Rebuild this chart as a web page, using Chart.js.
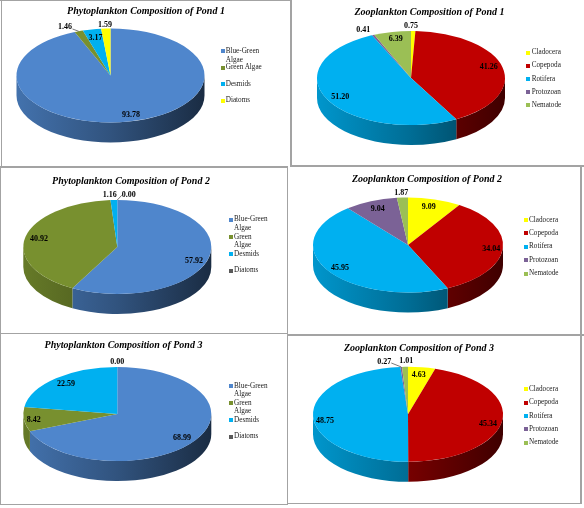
<!DOCTYPE html>
<html lang="en">
<head>
  <meta charset="UTF-8" />
  <title>Plankton Composition of Ponds</title>
  <script src="https://cdn.jsdelivr.net/npm/chart.js"></script>
  <style>
    html, body {
      margin: 0;
      background: #fff;
    }

    #page {
      position: relative;
      width: 584px;
      height: 508px;
      overflow: hidden;
      font-family: 'Liberation Serif', serif;
      filter: blur(0.3px);
    }

    #page canvas, .rule, .key, .swatch {
      position: absolute;
    }

    .rule {
      background: #a3a3a3;
    }

    .key {
      font-size: 7.2px;
      line-height: 8.5px;
      color: #222;
      white-space: pre-line;
    }

    .swatch {
      width: 4px;
      height: 4px;
    }
  </style>
</head>
<body>
  <div id="page"></div>

  <script>
    const phytoLegend = ['Blue-Green\nAlgae', 'Green\nAlgae', 'Desmids', 'Diatoms'];
    const phytoLegendPond1 = ['Blue-Green\nAlgae', 'Green Algae', 'Desmids', 'Diatoms'];
    const zooLegend = ['Cladocera', 'Copepoda', 'Rotifera', 'Protozoan', 'Nematode'];

    const phytoPond1 = [93.78, 1.46, 3.17, 1.59];
    const phytoPond2 = [57.92, 40.92, 1.16, 0.00];
    const phytoPond3 = [68.99, 8.42, 22.59, 0.00];
    const zooPond1 = [0.75, 41.26, 51.20, 0.41, 6.39];
    const zooPond2 = [9.09, 34.04, 45.95, 9.04, 1.87];
    const zooPond3 = [4.63, 45.34, 48.75, 0.27, 1.01];

    const phytoColorsPond1 = ['#4f86cc', '#78902f', '#00b0f0', '#ffff00'];
    const phytoColors = ['#4f86cc', '#78902f', '#00b0f0', '#595959'];
    const zooColors = ['#ffff00', '#c00000', '#00b0f0', '#7b6296', '#9bbf55'];

    // hand placed data labels, offset from the pie centre (like dragged labels in Excel)
    const panels = [
      { title: 'Phytoplankton Composition of Pond 1', labels: phytoLegendPond1, values: phytoPond1, colors: phytoColorsPond1,
        left: 0, top: 0, titleX: 146, titleY: 11.7, cx: 110.5, cy: 75.5, r: 94,
        spots: [[20.5, 39.5], [-45.5, -49], [-15, -37.5], [-5.5, -51]], leaders: { 1: [7.5, 2.5] },
        keyX: 221, textX: 225.7, keyY: [51.3, 67.7, 84.3, 100.7] },
      { title: 'Zooplankton Composition of Pond 1', labels: zooLegend, values: zooPond1, colors: zooColors,
        left: 291, top: 0, titleX: 429.7, titleY: 12, cx: 411, cy: 78, r: 94,
        spots: [[0, -52.3], [77.7, -11], [-70.7, 19.3], [-47.7, -48.3], [-15.3, -39]], leaders: {},
        keyX: 526, textX: 531.7, keyY: [52.7, 65.7, 79, 92.3, 105.3] },
      { title: 'Phytoplankton Composition of Pond 2', labels: phytoLegend, values: phytoPond2, colors: phytoColors,
        left: 0, top: 167, titleX: 131, titleY: 181, cx: 117.3, cy: 247, r: 94,
        spots: [[76.7, 14], [-78.3, -8.3], [-7.6, -51.7], [11.4, -51.7]], leaders: { 3: [-7, 0] },
        keyX: 229, textX: 234, keyY: [219.7, 237, 254, 270.7] },
      { title: 'Zooplankton Composition of Pond 2', labels: zooLegend, values: zooPond2, colors: zooColors,
        left: 291, top: 167, titleX: 427, titleY: 179.3, cx: 408, cy: 245, r: 95,
        spots: [[20.7, -38.3], [83.3, 4], [-68, 23], [-30.3, -36.3], [-6.7, -52.3]], leaders: {},
        keyX: 524, textX: 529, keyY: [220, 233.3, 246.7, 260.3, 273.7] },
      { title: 'Phytoplankton Composition of Pond 3', labels: phytoLegend, values: phytoPond3, colors: phytoColors,
        left: 0, top: 335, titleX: 123.7, titleY: 345.7, cx: 117.3, cy: 414, r: 94,
        spots: [[64.7, 24], [-83.6, 5.7], [-51.3, -29.7], [0, -51.7]], leaders: {},
        keyX: 229, textX: 234, keyY: [386, 403, 420, 436.7] },
      { title: 'Zooplankton Composition of Pond 3', labels: zooLegend, values: zooPond3, colors: zooColors,
        left: 291, top: 335, titleX: 419, titleY: 348.3, cx: 408, cy: 414.3, r: 95,
        spots: [[10.7, -39.3], [80, 10], [-83, 6.4], [-23.7, -52], [-1.7, -53]], leaders: { 3: [7, 0.7] },
        keyX: 524, textX: 529, keyY: [389.3, 402.7, 416, 429.3, 442.7] }
    ];

    // x, y, w, h of the grey frame pieces
    const rules = [
      [0, 0, 291, 1], [1, 0, 1, 167], [290, 0, 1.5, 166],
      [0, 166, 288, 2], [290, 165, 294, 2],
      [287, 167, 1, 338], [0, 167, 1, 338], [580, 166, 1.5, 338],
      [0, 333, 288, 1], [288, 334, 296, 2],
      [0, 504, 288, 1], [288, 503, 293, 1]
    ];

    const SQUASH = 0.5;
    const DEPTH = 20;
    const page = document.getElementById('page');

    function shade(hex, f) {
      const n = parseInt(hex.slice(1), 16);
      return `rgb(${(n >> 16) * f}, ${((n >> 8) & 255) * f}, ${(n & 255) * f})`;
    }

    // tilts the flat pie and gives it a rim
    const tiltPlugin = {
      id: 'tilt',
      beforeDatasetsDraw(chart, args, opts) {
        const ctx = chart.ctx;
        const arcs = chart.getDatasetMeta(0).data;
        arcs.forEach((arc, i) => {
          const a = Math.max(arc.startAngle, 0);
          const b = Math.min(arc.endAngle, Math.PI);
          if (b <= a) return;
          const r = arc.outerRadius;
          const grad = ctx.createLinearGradient(opts.x - r, 0, opts.x + r, 0);
          const color = chart.data.datasets[0].backgroundColor[i];
          grad.addColorStop(0, shade(color, 0.85));
          grad.addColorStop(0.5, shade(color, 0.62));
          grad.addColorStop(1, shade(color, 0.33));
          ctx.beginPath();
          ctx.ellipse(opts.x, opts.y, r, r * SQUASH, 0, a, b);
          ctx.ellipse(opts.x, opts.y + DEPTH, r, r * SQUASH, 0, b, a, true);
          ctx.closePath();
          ctx.fillStyle = grad;
          ctx.fill();
        });
      },
      beforeDatasetDraw(chart, args, opts) {
        const ctx = chart.ctx;
        const arc = chart.getDatasetMeta(0).data[0];
        ctx.save();
        ctx.translate(opts.x, opts.y);
        ctx.scale(1, SQUASH);
        ctx.translate(-arc.x, -arc.y);
      },
      afterDatasetDraw(chart) {
        chart.ctx.restore();
      },
      afterDatasetsDraw(chart, args, opts) {
        const ctx = chart.ctx;
        const arcs = chart.getDatasetMeta(0).data;
        ctx.font = 'bold 8px "Liberation Serif"';
        ctx.fillStyle = '#000';
        ctx.textAlign = 'center';
        ctx.textBaseline = 'middle';
        chart.data.datasets[0].data.forEach((v, i) => {
          const [dx, dy] = opts.spots[i];
          const lx = opts.x + dx;
          const ly = opts.y + dy;
          ctx.fillText(v.toFixed(2), lx, ly);
          const lead = opts.leaders[i];
          if (lead) {
            const mid = (arcs[i].startAngle + arcs[i].endAngle) / 2;
            ctx.beginPath();
            ctx.moveTo(lx + lead[0], ly + lead[1]);
            ctx.lineTo(opts.x + arcs[i].outerRadius * Math.cos(mid), opts.y + arcs[i].outerRadius * SQUASH * Math.sin(mid));
            ctx.strokeStyle = '#404040';
            ctx.lineWidth = 0.7;
            ctx.stroke();
          }
        });
      }
    };

    rules.forEach(([x, y, w, h]) => {
      const d = document.createElement('div');
      d.className = 'rule';
      d.style.cssText = `left:${x}px;top:${y}px;width:${w}px;height:${h}px`;
      page.appendChild(d);
    });

    panels.forEach(p => {
      const canvas = document.createElement('canvas');
      canvas.width = 2 * (p.titleX - p.left);
      canvas.height = 168;
      canvas.style.left = p.left + 'px';
      canvas.style.top = p.top + 'px';
      page.appendChild(canvas);

      new Chart(canvas, {
        type: 'pie',
        data: {
          labels: p.labels,
          datasets: [{
            data: p.values,
            backgroundColor: p.colors,
            borderWidth: 0,
            radius: p.r,
            clip: false
          }]
        },
        options: {
          responsive: false,
          animation: false,
          plugins: {
            legend: { display: false },
            tooltip: { enabled: false },
            title: {
              display: true,
              text: p.title,
              color: '#000',
              font: { family: '"Liberation Serif"', size: 10, weight: 'bold', style: 'italic' },
              padding: { top: p.titleY - p.top - 6, bottom: 0 }
            },
            tilt: { x: p.cx - p.left, y: p.cy - p.top, spots: p.spots, leaders: p.leaders }
          }
        },
        plugins: [tiltPlugin]
      });

      p.labels.forEach((text, i) => {
        const sw = document.createElement('div');
        sw.className = 'swatch';
        sw.style.cssText = `left:${p.keyX}px;top:${p.keyY[i] - 2}px;background:${p.colors[i]}`;
        page.appendChild(sw);
        const key = document.createElement('div');
        key.className = 'key';
        key.style.cssText = `left:${p.textX}px;top:${p.keyY[i] - 4.25}px`;
        key.textContent = text;
        page.appendChild(key);
      });
    });
  </script>
</body>
</html>
